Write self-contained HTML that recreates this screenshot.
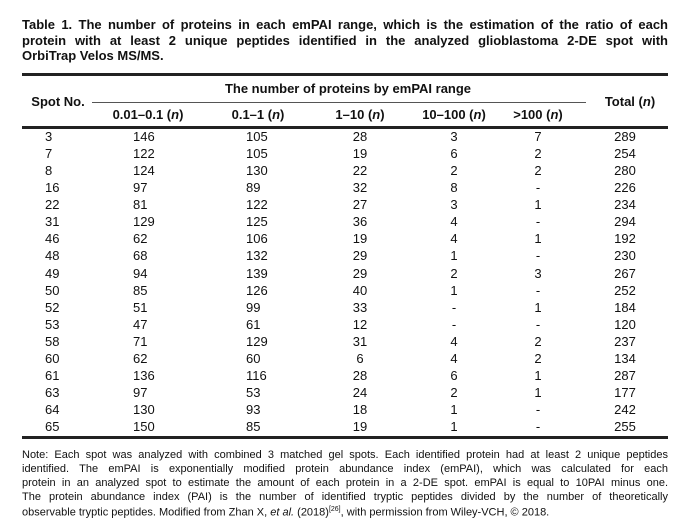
<!DOCTYPE html>
<html><head><meta charset="utf-8"><style>
body{margin:0;width:693px;height:532px;background:#fff;position:relative;font-family:"Liberation Sans",Arial,sans-serif;color:#111;overflow:hidden}
.a{position:absolute;white-space:nowrap}
.j{position:absolute;left:22px;width:646px;text-align:justify;text-align-last:justify;white-space:nowrap}
.t{font-weight:bold;font-size:13px;line-height:15px}
.n{font-size:11px;line-height:14px}
.r{position:absolute;background:#222}
.c{position:absolute;font-size:13px;line-height:17px;transform:translateX(-50%)}
.l{position:absolute;font-size:13px;line-height:17px}
.h{font-weight:bold}
</style></head><body>
<div class="j t" style="top:17px">Table 1. The number of proteins in each emPAI range, which is the estimation of the ratio of each</div>
<div class="j t" style="top:33px">protein with at least 2 unique peptides identified in the analyzed glioblastoma 2-DE spot with</div>
<div class="a t" style="left:22px;top:48px">OrbiTrap Velos MS/MS.</div>

<div class="r" style="left:22px;top:73px;width:646px;height:3px"></div>
<div class="c h" style="left:348px;top:80px">The number of proteins by emPAI range</div>
<div class="r" style="left:92px;top:102px;width:494px;height:1px;background:#555"></div>
<div class="c h" style="left:58px;top:93px">Spot No.</div>
<div class="c h" style="left:630px;top:93px">Total (<i>n</i>)</div>
<div class="c h" style="left:148px;top:106px">0.01–0.1 (<i>n</i>)</div>
<div class="c h" style="left:258px;top:106px">0.1–1 (<i>n</i>)</div>
<div class="c h" style="left:360px;top:106px">1–10 (<i>n</i>)</div>
<div class="c h" style="left:454px;top:106px">10–100 (<i>n</i>)</div>
<div class="c h" style="left:538px;top:106px">&gt;100 (<i>n</i>)</div>
<div class="r" style="left:22px;top:126px;width:646px;height:3px"></div>

<div id="rows"></div>
<script>
var d=[[3,146,105,28,3,7,289],[7,122,105,19,6,2,254],[8,124,130,22,2,2,280],[16,97,89,32,8,'-',226],[22,81,122,27,3,1,234],[31,129,125,36,4,'-',294],[46,62,106,19,4,1,192],[48,68,132,29,1,'-',230],[49,94,139,29,2,3,267],[50,85,126,40,1,'-',252],[52,51,99,33,'-',1,184],[53,47,61,12,'-','-',120],[58,71,129,31,4,2,237],[60,62,60,6,4,2,134],[61,136,116,28,6,1,287],[63,97,53,24,2,1,177],[64,130,93,18,1,'-',242],[65,150,85,19,1,'-',255]];
var h='';
d.forEach(function(r,i){var y=128+17.07*i;
h+='<div class="l" style="left:45px;top:'+y+'px">'+r[0]+'</div>';
h+='<div class="l" style="left:133px;top:'+y+'px">'+r[1]+'</div>';
h+='<div class="l" style="left:246px;top:'+y+'px">'+r[2]+'</div>';
h+='<div class="c" style="left:360px;top:'+y+'px">'+r[3]+'</div>';
h+='<div class="c" style="left:454px;top:'+y+'px">'+r[4]+'</div>';
h+='<div class="c" style="left:538px;top:'+y+'px">'+r[5]+'</div>';
h+='<div class="c" style="left:625px;top:'+y+'px">'+r[6]+'</div>';});
document.getElementById('rows').innerHTML=h;
</script>
<div class="r" style="left:22px;top:436px;width:646px;height:3px"></div>

<div class="j n" style="top:448px">Note: Each spot was analyzed with combined 3 matched gel spots. Each identified protein had at least 2 unique peptides</div>
<div class="j n" style="top:462px">identified. The emPAI is exponentially modified protein abundance index (emPAI), which was calculated for each</div>
<div class="j n" style="top:476px">protein in an analyzed spot to estimate the amount of each protein in a 2-DE spot. emPAI is equal to 10PAI minus one.</div>
<div class="j n" style="top:490px">The protein abundance index (PAI) is the number of identified tryptic peptides divided by the number of theoretically</div>
<div class="a n" style="left:22px;top:503px">observable tryptic peptides. Modified from Zhan X, <i>et al.</i> (2018)<sup style="font-size:7px">[26]</sup>, with permission from Wiley-VCH, © 2018.</div>
</body></html>
